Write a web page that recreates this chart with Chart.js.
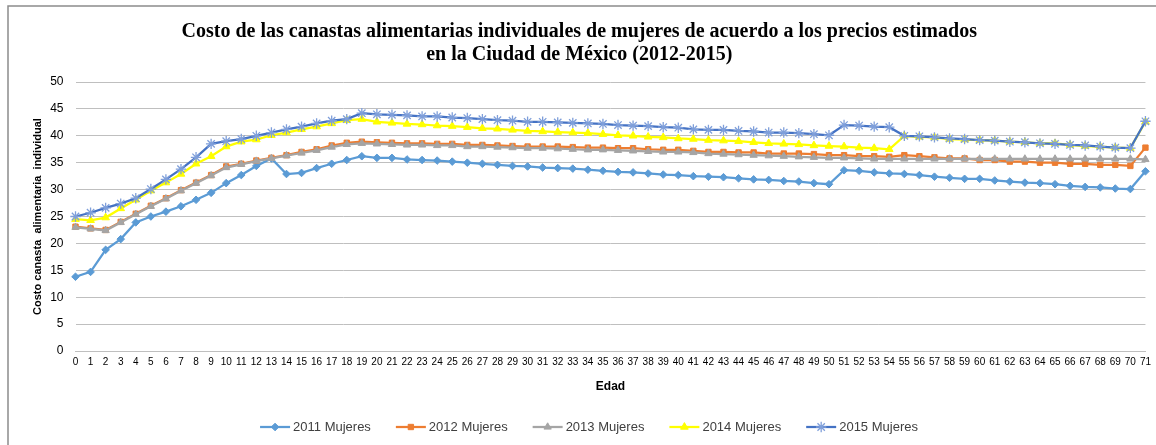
<!DOCTYPE html>
<html>
<head>
<meta charset="utf-8">
<script src="https://cdn.jsdelivr.net/npm/chart.js@4.4.0/dist/chart.umd.min.js"></script>
<style>
    html, body { margin: 0; padding: 0; background: #fff; }
    #wrap { width: 1156px; height: 445px; }
</style>
</head>
<body>
<div id="wrap"><canvas id="chart" width="1156" height="445"></canvas></div>
<script>
// -------------------------------
// Daten
// -------------------------------
const edades = ["0","1","2","3","4","5","6","7","8","9","10","11","12","13","14","15","16","17","18","19",
    "20","21","22","23","24","25","26","27","28","29","30","31","32","33","34","35","36","37","38","39",
    "40","41","42","43","44","45","46","47","48","49","50","51","52","53","54","55","56","57","58","59",
    "60","61","62","63","64","65","66","67","68","69","70","71"];

const yTicks = [0, 5, 10, 15, 20, 25, 30, 35, 40, 45, 50];

const mujeres2011 = [13.8,14.7,18.8,20.8,23.9,25.0,25.9,26.9,28.1,29.4,
    31.2,32.7,34.4,35.8,32.9,33.1,34.0,34.8,35.5,36.2,
    35.9,35.9,35.6,35.5,35.4,35.2,35.0,34.8,34.6,34.4,
    34.3,34.1,34.0,33.9,33.7,33.5,33.3,33.2,33.0,32.8,
    32.7,32.5,32.4,32.3,32.1,31.9,31.8,31.6,31.5,31.2,
    31.0,33.6,33.5,33.2,33.0,32.9,32.7,32.4,32.2,32.0,
    32.0,31.7,31.5,31.3,31.2,31.0,30.7,30.5,30.4,30.2,
    30.1,33.4];

const mujeres2012 = [23.1,22.8,22.5,24.0,25.5,27.0,28.4,29.9,31.3,32.7,
    34.3,34.8,35.4,35.9,36.4,37.0,37.5,38.2,38.7,38.9,
    38.8,38.7,38.6,38.6,38.5,38.5,38.3,38.3,38.2,38.1,
    38.0,38.0,38.0,37.9,37.8,37.8,37.7,37.7,37.5,37.4,
    37.4,37.2,37.0,37.0,36.9,36.9,36.7,36.7,36.7,36.6,
    36.4,36.4,36.2,36.2,36.1,36.4,36.2,36.0,35.8,35.8,
    35.5,35.5,35.2,35.2,35.0,35.0,34.8,34.8,34.6,34.6,
    34.4,37.8];

const mujeres2013 = [23.0,22.7,22.4,23.9,25.4,26.9,28.3,29.8,31.2,32.6,
    34.1,34.7,35.3,35.8,36.3,36.8,37.3,37.9,38.4,38.6,
    38.5,38.4,38.3,38.3,38.2,38.2,38.0,38.0,37.9,37.8,
    37.7,37.7,37.6,37.5,37.4,37.4,37.3,37.2,37.1,37.0,
    37.0,36.9,36.7,36.6,36.5,36.4,36.3,36.2,36.1,36.0,
    35.9,35.9,35.8,35.7,35.7,35.7,35.7,35.7,35.7,35.7,
    35.7,35.7,35.7,35.7,35.7,35.7,35.7,35.7,35.7,35.7,
    35.7,35.6];

const mujeres2014 = [24.5,24.3,24.8,26.5,28.1,29.8,31.3,32.9,34.8,36.2,
    38.0,38.9,39.3,40.1,40.6,41.2,41.7,42.3,42.9,43.1,
    42.6,42.4,42.2,42.1,41.9,41.8,41.6,41.4,41.3,41.1,
    40.9,40.8,40.7,40.6,40.5,40.3,40.1,40.0,39.8,39.7,
    39.5,39.4,39.2,39.1,39.0,38.8,38.6,38.5,38.4,38.2,
    38.1,38.0,37.8,37.7,37.5,40.0,39.8,39.7,39.4,39.3,
    39.2,39.1,38.9,38.8,38.6,38.6,38.3,38.1,38.0,37.8,
    37.7,42.6];

const mujeres2015 = [25.0,25.7,26.6,27.4,28.4,30.1,31.9,33.8,36.0,38.5,
    39.0,39.4,40.0,40.6,41.2,41.7,42.3,42.8,43.1,44.2,
    44.0,43.9,43.8,43.6,43.6,43.4,43.3,43.1,42.9,42.8,
    42.6,42.6,42.5,42.4,42.3,42.2,42.0,41.9,41.8,41.6,
    41.5,41.2,41.1,41.1,40.9,40.8,40.6,40.6,40.5,40.3,
    40.1,42.0,41.9,41.7,41.6,40.0,39.9,39.7,39.5,39.4,
    39.2,39.1,38.9,38.8,38.6,38.5,38.3,38.2,38.0,37.8,
    37.7,42.7];

// -------------------------------
// Serien
// -------------------------------
function serie(label, data, color, style, radius, markerColor, order) {
    return {
        label,
        data,
        borderColor: color,
        backgroundColor: markerColor || color,
        pointBorderColor: markerColor || color,
        pointBackgroundColor: markerColor || color,
        borderWidth: 2.25,
        pointStyle: style,
        pointRadius: radius,
        pointBorderWidth: style === "star" ? 1.3 : 1,
        tension: 0,
        order
    };
}

const datasets = [
    serie("2011 Mujeres", mujeres2011, "#5B9BD5", "rectRot", 3.8, null, 4),
    serie("2012 Mujeres", mujeres2012, "#ED7D31", "rect", 3.8, null, 3),
    serie("2013 Mujeres", mujeres2013, "#A5A5A5", "triangle", 4.2, null, 2),
    serie("2014 Mujeres", mujeres2014, "#FFFF00", "triangle", 4.4, null, 1),
    serie("2015 Mujeres", mujeres2015, "#4472C4", "star", 5.2, "#7F9FDA", 0)
];

// -------------------------------
// Rahmen + Legende (Linie mit Marker)
// -------------------------------
const frame = {
    id: "frame",
    beforeDraw(chart) {
        const ctx = chart.ctx;
        ctx.save();
        ctx.fillStyle = "#fff";
        ctx.fillRect(0, 0, chart.width, chart.height);
        ctx.strokeStyle = "#8c8c8c";
        ctx.lineWidth = 1.5;
        ctx.beginPath();
        ctx.moveTo(8, chart.height);
        ctx.lineTo(8, 6);
        ctx.lineTo(chart.width, 6);
        ctx.stroke();
        ctx.restore();
    }
};

const lineLegend = {
    id: "lineLegend",
    afterDraw(chart) {
        const ctx = chart.ctx;
        const y = 427;
        const sample = 30, gap = 3, spacing = 25;
        ctx.save();
        ctx.font = "13px 'Liberation Sans'";
        ctx.textBaseline = "middle";
        ctx.textAlign = "left";

        const widths = chart.data.datasets.map(d => sample + gap + ctx.measureText(d.label).width);
        const total = widths.reduce((a, b) => a + b, 0) + spacing * (widths.length - 1);
        let x = 589 - total / 2;

        chart.data.datasets.forEach((d, i) => {
            ctx.strokeStyle = d.borderColor;
            ctx.lineWidth = 2.25;
            ctx.beginPath();
            ctx.moveTo(x, y);
            ctx.lineTo(x + sample, y);
            ctx.stroke();

            ctx.fillStyle = d.pointBackgroundColor;
            ctx.strokeStyle = d.pointBorderColor;
            ctx.lineWidth = d.pointBorderWidth;
            Chart.helpers.drawPoint(ctx, {
                pointStyle: d.pointStyle,
                radius: d.pointRadius,
                rotation: 0,
                borderWidth: d.pointBorderWidth
            }, x + sample / 2, y);

            ctx.fillStyle = "#404040";
            ctx.fillText(d.label, x + sample + gap, y);
            x += widths[i] + spacing;
        });
        ctx.restore();
    }
};

// -------------------------------
// Chart
// -------------------------------
new Chart(document.getElementById("chart"), {
    type: "line",
    data: { labels: edades, datasets },
    plugins: [frame, lineLegend],
    options: {
        responsive: false,
        animation: false,
        layout: { padding: { left: 8, right: 5.5, top: 0, bottom: 45 } },
        plugins: {
            legend: { display: false },
            tooltip: { enabled: false },
            title: {
                display: true,
                text: [
                    "Costo de las canastas alimentarias individuales de mujeres de acuerdo a los precios estimados",
                    "en la Ciudad de México (2012-2015)"
                ],
                color: "#000",
                font: { family: "'Liberation Serif'", size: 20, weight: "bold", lineHeight: "23px" },
                padding: { top: 20.5, bottom: 15.5 }
            }
        },
        scales: {
            x: {
                afterFit: s => { s.height = 49; },
                grid: { display: false, drawTicks: false },
                border: { color: "#BFBFBF", width: 1 },
                ticks: {
                    autoSkip: false,
                    maxRotation: 0,
                    minRotation: 0,
                    padding: 5,
                    color: "#000",
                    font: { family: "'Liberation Sans'", size: 10 }
                },
                title: {
                    display: true,
                    text: "Edad",
                    color: "#000",
                    font: { family: "'Liberation Sans'", size: 12, weight: "bold" },
                    padding: { top: 0, bottom: 6 }
                }
            },
            y: {
                min: 0,
                max: 50,
                afterFit: s => { s.width = 67.5; },
                afterBuildTicks: s => { s.ticks = yTicks.map(v => ({ value: v })); },
                grid: { color: "#BFBFBF", lineWidth: 1, drawTicks: false },
                border: { display: false },
                ticks: {
                    padding: 12,
                    color: "#000",
                    font: { family: "'Liberation Sans'", size: 12 }
                },
                title: {
                    display: true,
                    text: "Costo canasta  alimentaria  individual",
                    color: "#000",
                    font: { family: "'Liberation Sans'", size: 11, weight: "bold" },
                    padding: { top: 23, bottom: 0 }
                }
            }
        }
    }
});
</script>
</body>
</html>
